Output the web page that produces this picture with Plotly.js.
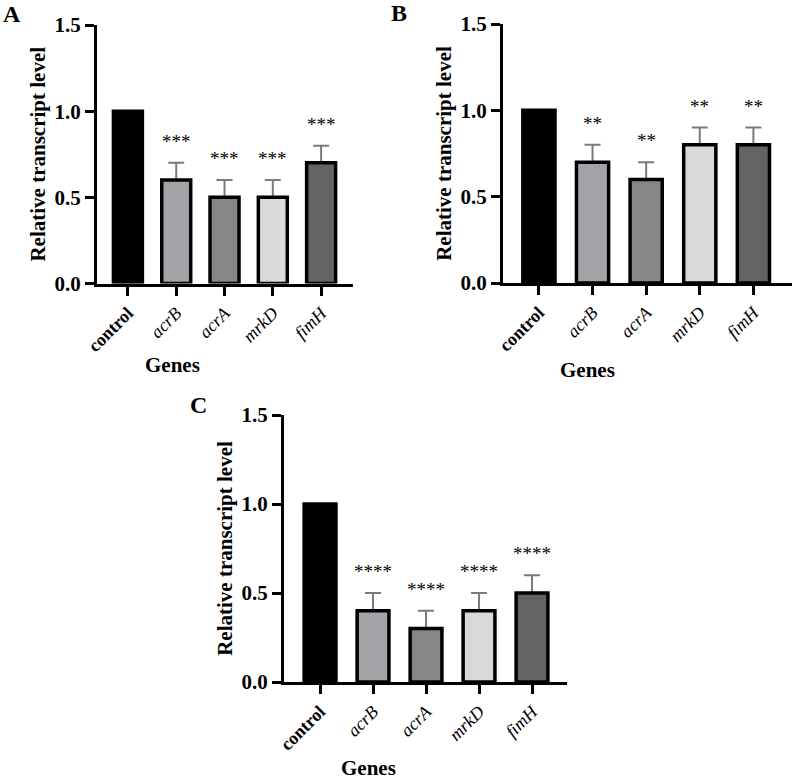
<!DOCTYPE html>
<html>
<head>
<meta charset="utf-8">
<script src="https://cdn.plot.ly/plotly-3.0.1.min.js"></script>
<style>
  html, body { margin: 0; padding: 0; background: #ffffff; }
  #chart { width: 794px; height: 779px; }
</style>
</head>
<body>
<div id="chart"></div>
<script>
// Genes measured by qRT-PCR
const categories = ['control', 'acrB', 'acrA', 'mrkD', 'fimH'];
const tickLabels = ['<b>control</b>', '<i>acrB</i>', '<i>acrA</i>', '<i>mrkD</i>', '<i>fimH</i>'];

// Panel A
const valuesA = [1.0, 0.6, 0.5, 0.5, 0.7];
const errorsA = [0, 0.1, 0.1, 0.1, 0.1];
const starsA  = ['', '***', '***', '***', '***'];

// Panel B
const valuesB = [1.0, 0.7, 0.6, 0.8, 0.8];
const errorsB = [0, 0.1, 0.1, 0.1, 0.1];
const starsB  = ['', '**', '**', '**', '**'];

// Panel C
const valuesC = [1.0, 0.4, 0.3, 0.4, 0.5];
const errorsC = [0, 0.1, 0.1, 0.1, 0.1];
const starsC  = ['', '****', '****', '****', '****'];

const yTicks = [0, 0.5, 1.0, 1.5];
const barColors = ['#000000', '#a3a3a7', '#868686', '#d9d9d9', '#636363'];

const W = 794, H = 779;
const serif = 'Liberation Serif, Times New Roman, serif';

// pixel boxes of each plot area: [left, right, top, bottom]
const panels = [
  { id: 'A', vals: valuesA, errs: errorsA, stars: starsA, box: [97, 353, 25, 283.5], xr: [-0.64, 4.66],
    label: [12, 14], genes: [172, 365] },
  { id: 'B', vals: valuesB, errs: errorsB, stars: starsB, box: [503, 792, 24, 283], xr: [-0.67, 4.72],
    label: [399, 13], genes: [587, 370] },
  { id: 'C', vals: valuesC, errs: errorsC, stars: starsC, box: [284, 567, 415, 682], xr: [-0.68, 4.66],
    label: [198, 405], genes: [368, 768] }
];

const traces = [];
const annotations = [];
const layout = {
  width: W, height: H,
  margin: { l: 0, r: 0, t: 0, b: 0 },
  paper_bgcolor: '#ffffff',
  plot_bgcolor: '#ffffff',
  showlegend: false,
  barmode: 'overlay',
  font: { family: serif, color: '#000000' }
};

panels.forEach((p, i) => {
  const n = i === 0 ? '' : String(i + 1);
  const xa = 'x' + n, ya = 'y' + n;
  const [l, r, t, b] = p.box;

  // filled bars carrying the upper SD whiskers
  traces.push({
    type: 'bar',
    x: categories,
    y: p.vals,
    width: 0.6,
    xaxis: xa, yaxis: ya,
    marker: { color: barColors, line: { width: 0 } },
    error_y: {
      type: 'data', symmetric: false,
      array: p.errs, arrayminus: p.errs.map(() => 0),
      color: '#7a7a7a', thickness: 2, width: 8
    },
    hoverinfo: 'x+y'
  });
  // black bar outlines drawn on top, hiding the whisker foot
  traces.push({
    type: 'bar',
    x: categories,
    y: p.vals,
    width: 0.6,
    xaxis: xa, yaxis: ya,
    marker: { color: 'rgba(0,0,0,0)', line: { color: '#000000', width: 3.5 } },
    hoverinfo: 'skip'
  });

  layout['xaxis' + n] = {
    domain: [l / W, r / W],
    anchor: ya,
    type: 'category',
    range: p.xr,
    tickmode: 'array',
    tickvals: categories,
    ticktext: tickLabels,
    tickangle: -45,
    ticks: 'outside', ticklen: 9, tickwidth: 3, tickcolor: '#000000',
    showline: true, linewidth: 3, linecolor: '#000000',
    showgrid: false, zeroline: false,
    tickfont: { family: serif, size: 18, color: '#000000' },
    fixedrange: true
  };
  layout['yaxis' + n] = {
    domain: [1 - b / H, 1 - t / H],
    anchor: xa,
    range: [0, 1.5],
    tickmode: 'array',
    tickvals: yTicks,
    ticktext: yTicks.map(v => v.toFixed(1)),
    ticks: 'outside', ticklen: 9, tickwidth: 3, tickcolor: '#000000',
    showline: true, linewidth: 3, linecolor: '#000000',
    showgrid: false, zeroline: false,
    tickfont: { family: serif, size: 21, color: '#000000', weight: 'bold' },
    title: { text: 'Relative transcript level', standoff: 4,
             font: { family: serif, size: 21, color: '#000000', weight: 'bold' } },
    fixedrange: true
  };

  // significance marks above each error bar
  categories.forEach((c, k) => {
    if (!p.stars[k]) return;
    annotations.push({
      xref: xa, yref: ya,
      x: c, y: p.vals[k] + p.errs[k],
      text: p.stars[k],
      showarrow: false,
      yanchor: 'bottom', yshift: 9,
      font: { family: serif, size: 19, color: '#000000' }
    });
  });

  // x-axis title
  annotations.push({
    xref: 'paper', yref: 'paper',
    x: p.genes[0] / W, y: 1 - p.genes[1] / H,
    xanchor: 'center', yanchor: 'middle',
    text: '<b>Genes</b>', showarrow: false,
    font: { family: serif, size: 21, color: '#000000' }
  });

  // panel letter
  annotations.push({
    xref: 'paper', yref: 'paper',
    x: p.label[0] / W, y: 1 - p.label[1] / H,
    xanchor: 'center', yanchor: 'middle',
    text: '<b>' + p.id + '</b>', showarrow: false,
    font: { family: serif, size: 24, color: '#000000' }
  });
});

layout.annotations = annotations;

Plotly.newPlot('chart', traces, layout, { displayModeBar: false, staticPlot: true });
</script>
</body>
</html>
